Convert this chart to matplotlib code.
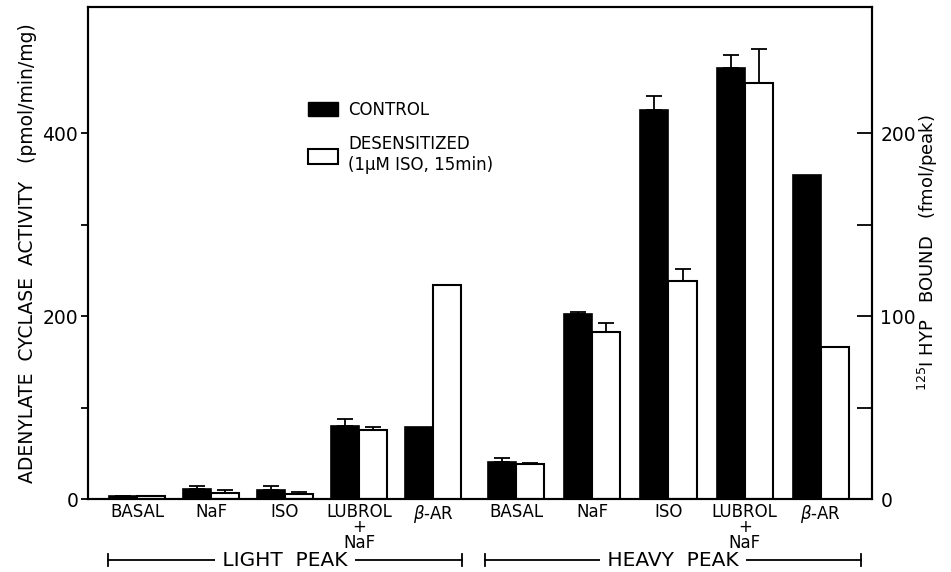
import matplotlib.pyplot as plt
import numpy as np
from matplotlib.patches import Patch
import matplotlib.transforms as mtransforms

# categories (same for both peaks)
categories = ['BASAL', 'NaF', 'ISO', 'LUBROL\n+\nNaF', r'$\beta$-AR']

# adenylate cyclase activity, pmol/min/mg (BASAL, NaF, ISO, LUBROL+NaF)
light_ctrl = [3, 11, 10, 80]
light_ctrl_err = [0, 3, 4, 8]
light_des = [3, 7, 5, 76]
light_des_err = [0, 3, 3, 3]
heavy_ctrl = [41, 202, 425, 471]
heavy_ctrl_err = [4, 2, 16, 15]
heavy_des = [38, 183, 238, 455]
heavy_des_err = [1, 10, 14, 37]

# beta-AR, 125I HYP bound, fmol/peak
bar_ctrl = [39.5, 177]   # light, heavy
bar_des = [117, 83]

# layout
pos = np.r_[np.arange(5), 5.12 + np.arange(5) * 1.03]
w = 0.38

fig = plt.figure(figsize=(9.51, 5.72), dpi=100)
ax = fig.add_axes([0.0925, 0.1276, 0.8245, 0.8602])
ax2 = ax.twinx()

ctrl = light_ctrl + heavy_ctrl
ctrl_err = light_ctrl_err + heavy_ctrl_err
des = light_des + heavy_des
des_err = light_des_err + heavy_des_err
p = np.r_[pos[0:4], pos[5:9]]

ax.bar(p - w / 2, ctrl, w, color='black', edgecolor='black', linewidth=1.2)
ax.bar(p + w / 2, des, w, color='white', edgecolor='black', linewidth=1.5)
ax.errorbar(p - w / 2, ctrl, yerr=[np.zeros(8), ctrl_err], fmt='none',
            ecolor='black', elinewidth=1.3, capsize=6, capthick=1.3)
ax.errorbar(p + w / 2, des, yerr=[np.zeros(8), des_err], fmt='none',
            ecolor='black', elinewidth=1.3, capsize=6, capthick=1.3)

pb = pos[[4, 9]]
ax2.bar(pb - w / 2, bar_ctrl, w, color='black', edgecolor='black', linewidth=1.2)
ax2.bar(pb + w / 2, bar_des, w, color='white', edgecolor='black', linewidth=1.5)

ax.set_xlim(-0.662, 9.93)
ax.set_ylim(0, 538)
ax2.set_ylim(0, 269)

for a in (ax, ax2):
    for s in a.spines.values():
        s.set_linewidth(1.5)

ax.set_yticks([0, 200, 400])
ax.set_yticks([100, 300], minor=True)
ax.tick_params(axis='y', which='both', direction='out', length=5, width=1.3,
               labelsize=13.5, pad=2)
ax2.set_yticks([0, 100, 200])
ax2.set_yticks([50, 150], minor=True)
ax2.tick_params(axis='y', which='both', direction='in', length=11, width=1.3,
                labelsize=13.5, pad=6)

ax.set_xticks(pos)
ax.set_xticklabels(categories * 2, fontsize=12, linespacing=0.8)
ax.tick_params(axis='x', length=0, pad=3)

ax.set_ylabel('ADENYLATE  CYCLASE  ACTIVITY   (pmol/min/mg)', fontsize=13.5,
              labelpad=4)
ax2.set_ylabel(r'$^{125}$I HYP   BOUND   (fmol/peak)', fontsize=13, labelpad=0)

handles = [Patch(facecolor='black', edgecolor='black'),
           Patch(facecolor='white', edgecolor='black', linewidth=1.5)]
ax.legend(handles, ['CONTROL', 'DESENSITIZED\n(1\u03bcM ISO, 15min)'],
          loc='upper left', bbox_to_anchor=(0.262, 0.84), frameon=False,
          fontsize=12, handlelength=1.75, handleheight=1.0, labelspacing=1.0,
          handletextpad=0.65)

# group brackets
tr = mtransforms.blended_transform_factory(ax.transData, ax.transAxes)
groups = [('LIGHT  PEAK', pos[0] - 0.39, pos[4] + 0.39),
          ('HEAVY  PEAK', pos[5] - 0.42, pos[9] + 0.54)]
yb = -0.124
for name, x0, x1 in groups:
    xm = (x0 + x1) / 2
    ax.text(xm, yb, ' ' + name + ' ', transform=tr, ha='center', va='center',
            fontsize=14.5, bbox=dict(facecolor='white', edgecolor='none', pad=0.5))
    ax.plot([x0, x1], [yb, yb], color='black', lw=1.3, transform=tr,
            clip_on=False, zorder=1)
    for xe in (x0, x1):
        ax.plot([xe, xe], [yb - 0.012, yb + 0.012], color='black', lw=1.3,
                transform=tr, clip_on=False)

fig.savefig('out.png', dpi=100)
